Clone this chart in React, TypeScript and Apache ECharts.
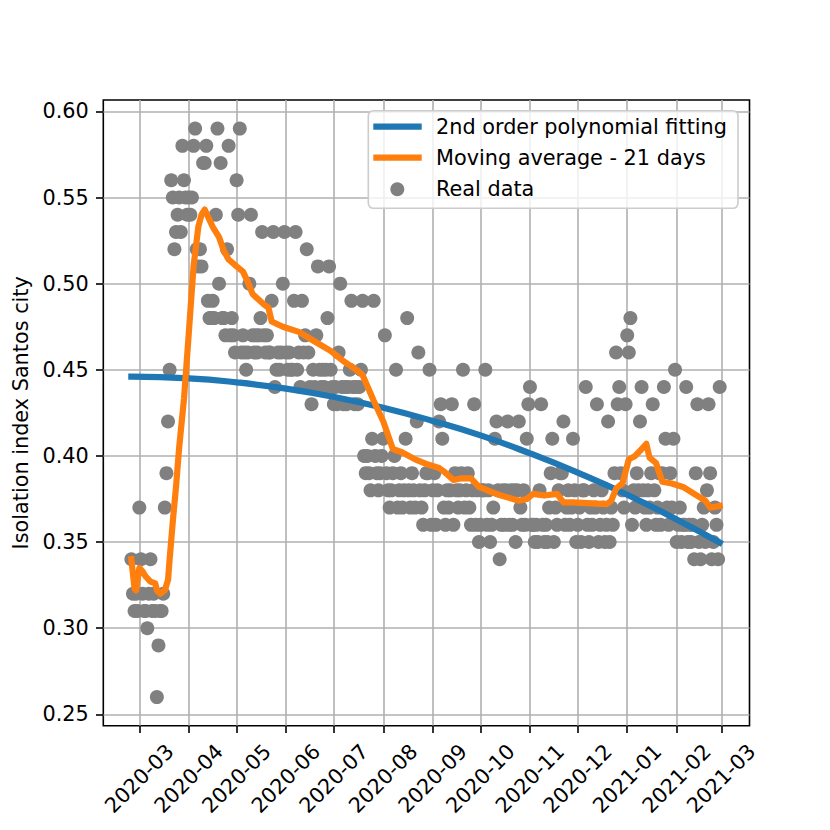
import React, { useEffect, useRef } from 'react';
import * as echarts from 'echarts';

// Daily isolation index, Santos city, first day 2020-02-25
const FIRST_DAY = '2020-02-25';
const iso2020Feb = [0.34, 0.32, 0.31, 0.32, 0.31];
const iso2020Mar = [0.37, 0.34, 0.32, 0.31, 0.31, 0.30, 0.32, 0.34, 0.31, 0.32, 0.31, 0.26, 0.29, 0.31, 0.31, 0.32, 0.37, 0.39, 0.42, 0.45, 0.56, 0.55, 0.52, 0.53, 0.54, 0.55, 0.53, 0.58, 0.56, 0.55, 0.54];
const iso2020Apr = [0.55, 0.54, 0.55, 0.58, 0.59, 0.52, 0.51, 0.52, 0.51, 0.57, 0.57, 0.58, 0.49, 0.48, 0.48, 0.49, 0.48, 0.54, 0.59, 0.50, 0.57, 0.48, 0.48, 0.47, 0.52, 0.58, 0.47, 0.48, 0.47, 0.46];
const iso2020May = [0.56, 0.54, 0.59, 0.46, 0.47, 0.46, 0.45, 0.46, 0.50, 0.54, 0.47, 0.46, 0.47, 0.46, 0.47, 0.48, 0.53, 0.47, 0.46, 0.47, 0.46, 0.46, 0.49, 0.53, 0.44, 0.45, 0.46, 0.45, 0.46, 0.50, 0.53];
const iso2020Jun = [0.46, 0.45, 0.46, 0.45, 0.45, 0.49, 0.53, 0.45, 0.46, 0.44, 0.49, 0.46, 0.47, 0.52, 0.46, 0.44, 0.43, 0.45, 0.44, 0.47, 0.51, 0.45, 0.44, 0.45, 0.44, 0.45, 0.48, 0.51, 0.45, 0.44];
const iso2020Jul = [0.43, 0.44, 0.43, 0.46, 0.50, 0.44, 0.43, 0.44, 0.43, 0.44, 0.45, 0.49, 0.44, 0.43, 0.44, 0.43, 0.44, 0.45, 0.49, 0.40, 0.39, 0.40, 0.39, 0.38, 0.41, 0.49, 0.40, 0.39, 0.38, 0.39, 0.40];
const iso2020Aug = [0.41, 0.47, 0.39, 0.38, 0.37, 0.38, 0.39, 0.40, 0.45, 0.37, 0.38, 0.39, 0.37, 0.38, 0.41, 0.48, 0.38, 0.37, 0.39, 0.38, 0.37, 0.42, 0.46, 0.38, 0.37, 0.36, 0.38, 0.39, 0.39, 0.45, 0.36];
const iso2020Sep = [0.38, 0.39, 0.36, 0.38, 0.42, 0.43, 0.41, 0.37, 0.36, 0.38, 0.37, 0.38, 0.43, 0.36, 0.39, 0.38, 0.37, 0.38, 0.39, 0.45, 0.37, 0.38, 0.39, 0.37, 0.36, 0.38, 0.43, 0.36, 0.38, 0.35];
const iso2020Oct = [0.36, 0.38, 0.38, 0.45, 0.36, 0.38, 0.35, 0.36, 0.37, 0.41, 0.42, 0.38, 0.34, 0.36, 0.38, 0.36, 0.38, 0.42, 0.36, 0.38, 0.36, 0.38, 0.35, 0.38, 0.42, 0.37, 0.36, 0.38, 0.36, 0.41, 0.43];
const iso2020Nov = [0.44, 0.36, 0.36, 0.35, 0.36, 0.35, 0.38, 0.43, 0.36, 0.35, 0.36, 0.35, 0.37, 0.39, 0.41, 0.35, 0.37, 0.36, 0.38, 0.39, 0.39, 0.42, 0.36, 0.37, 0.38, 0.36, 0.37, 0.41, 0.38, 0.35];
const iso2020Dec = [0.36, 0.37, 0.35, 0.38, 0.38, 0.44, 0.36, 0.35, 0.37, 0.36, 0.38, 0.37, 0.43, 0.35, 0.36, 0.38, 0.37, 0.35, 0.36, 0.42, 0.35, 0.37, 0.36, 0.39, 0.46, 0.43, 0.44, 0.39, 0.38, 0.37, 0.43];
const iso2021Jan = [0.47, 0.46, 0.48, 0.36, 0.38, 0.37, 0.39, 0.38, 0.42, 0.44, 0.38, 0.37, 0.36, 0.38, 0.37, 0.39, 0.43, 0.38, 0.36, 0.37, 0.39, 0.36, 0.39, 0.44, 0.41, 0.37, 0.36, 0.39, 0.37, 0.41, 0.45];
const iso2021Feb = [0.35, 0.36, 0.37, 0.35, 0.36, 0.36, 0.44, 0.35, 0.36, 0.35, 0.36, 0.34, 0.39, 0.43, 0.35, 0.34, 0.36, 0.37, 0.35, 0.38, 0.43, 0.39, 0.34, 0.35, 0.37, 0.36, 0.34, 0.44];

const isoMonths = [iso2020Feb, iso2020Mar, iso2020Apr, iso2020May, iso2020Jun, iso2020Jul, iso2020Aug, iso2020Sep, iso2020Oct, iso2020Nov, iso2020Dec, iso2021Jan, iso2021Feb];

// Moving average - 21 days
const maDates = ['2020-02-25', '2020-02-27', '2020-02-28', '2020-03-01', '2020-03-03', '2020-03-05', '2020-03-08', '2020-03-11', '2020-03-12', '2020-03-14', '2020-03-17', '2020-03-19', '2020-03-20', '2020-03-22', '2020-03-24', '2020-03-26', '2020-03-29', '2020-04-01', '2020-04-04', '2020-04-07', '2020-04-09', '2020-04-11', '2020-04-14', '2020-04-16', '2020-04-20', '2020-04-23', '2020-04-26', '2020-05-01', '2020-05-05', '2020-05-08', '2020-05-11', '2020-05-18', '2020-05-21', '2020-05-23', '2020-05-30', '2020-06-09', '2020-06-18', '2020-06-29', '2020-07-07', '2020-07-15', '2020-07-19', '2020-07-26', '2020-08-01', '2020-08-07', '2020-08-13', '2020-08-21', '2020-08-29', '2020-09-05', '2020-09-08', '2020-09-14', '2020-09-19', '2020-09-25', '2020-09-30', '2020-10-08', '2020-10-14', '2020-10-25', '2020-10-30', '2020-11-03', '2020-11-10', '2020-11-18', '2020-11-22', '2020-11-28', '2020-12-19', '2020-12-22', '2020-12-25', '2020-12-29', '2021-01-02', '2021-01-06', '2021-01-10', '2021-01-13', '2021-01-15', '2021-01-19', '2021-01-23', '2021-01-29', '2021-02-05', '2021-02-12', '2021-02-19', '2021-02-22', '2021-02-28'];
const maValues = [0.340, 0.323, 0.322, 0.335, 0.333, 0.330, 0.327, 0.326, 0.322, 0.320, 0.322, 0.328, 0.340, 0.362, 0.382, 0.405, 0.433, 0.471, 0.510, 0.533, 0.540, 0.543, 0.537, 0.533, 0.527, 0.519, 0.514, 0.510, 0.507, 0.501, 0.494, 0.488, 0.486, 0.478, 0.475, 0.472, 0.467, 0.461, 0.455, 0.450, 0.447, 0.432, 0.420, 0.404, 0.402, 0.398, 0.395, 0.393, 0.391, 0.386, 0.387, 0.387, 0.382, 0.379, 0.377, 0.374, 0.375, 0.378, 0.377, 0.378, 0.373, 0.373, 0.372, 0.374, 0.381, 0.384, 0.398, 0.400, 0.404, 0.407, 0.399, 0.396, 0.385, 0.384, 0.382, 0.378, 0.374, 0.370, 0.371];

// 2nd order polynomial fitting
const fitDates = ['2020-02-25', '2020-04-01', '2020-05-01', '2020-06-01', '2020-07-01', '2020-08-01', '2020-09-01', '2020-10-01', '2020-11-01', '2020-12-01', '2021-01-01', '2021-02-01', '2021-02-28'];
const fitValues = [0.446, 0.445, 0.4427, 0.4391, 0.4343, 0.428, 0.4203, 0.4119, 0.4015, 0.3903, 0.3775, 0.3631, 0.3497];

const xTickLabels = ['2020-03', '2020-04', '2020-05', '2020-06', '2020-07', '2020-08', '2020-09', '2020-10', '2020-11', '2020-12', '2021-01', '2021-02', '2021-03'];
const yTickValues = [0.25, 0.3, 0.35, 0.4, 0.45, 0.5, 0.55, 0.6];

const FONT = 'DejaVu Sans';
const FS = 20.8;
const LW = 6.2;
const THIN = 1.6;

function toTs(s: string): number {
  const p = s.split('-').map(Number);
  return new Date(p[0], p[1] - 1, p[2] || 1).getTime();
}

export default function App() {
  const ref = useRef<HTMLDivElement>(null);
  useEffect(() => {
    if (!ref.current) return;
    const chart = echarts.init(ref.current, null, { renderer: 'svg' });
    const fd = FIRST_DAY.split('-').map(Number);
    const allValues = ([] as number[]).concat(...isoMonths);
    const scatterData = allValues.map((v, i) => [new Date(fd[0], fd[1] - 1, fd[2] + i).getTime(), v]);
    const maData = maDates.map((d, i) => [toTs(d), maValues[i]]);
    const fitData = fitDates.map((d, i) => [toTs(d), fitValues[i]]);
    const xTicks = xTickLabels.map((s) => toTs(s));
    const xMin = new Date(2020, 1, 7, 9, 36).getTime();
    const xMax = new Date(2021, 2, 18, 16, 48).getTime();

    const option: any = {
      animation: false,
      backgroundColor: '#ffffff',
      textStyle: { fontFamily: FONT },
      grid: {
        left: 103.3,
        top: 100,
        right: 80.5,
        bottom: 104.3,
        show: true,
        borderColor: '#000000',
        borderWidth: THIN,
        backgroundColor: 'transparent',
        containLabel: false,
        outerBoundsMode: 'none',
      },
      xAxis: {
        type: 'value',
        min: xMin,
        max: xMax,
        scale: true,
        axisLine: { show: false },
        axisTick: {
          show: true,
          customValues: xTicks,
          length: 7.3,
          lineStyle: { color: '#000', width: THIN },
        },
        axisLabel: {
          show: true,
          customValues: xTicks,
          rotate: 45,
          align: 'center',
          verticalAlign: 'middle',
          margin: 53,
          hideOverlap: false,
          fontSize: FS,
          fontFamily: FONT,
          color: '#000',
          formatter: (val: number) => {
            const idx = xTicks.indexOf(val);
            return idx >= 0 ? xTickLabels[idx] : '';
          },
        },
        splitLine: { show: true, lineStyle: { color: '#b0b0b0', width: THIN } },
      },
      yAxis: {
        type: 'value',
        min: 0.2434,
        max: 0.6066,
        name: 'Isolation index Santos city',
        nameLocation: 'middle',
        nameGap: 80,
        nameRotate: 90,
        nameTextStyle: { fontSize: FS, fontFamily: FONT, color: '#000', align: 'center', verticalAlign: 'middle' },
        axisLine: { show: false },
        axisTick: {
          show: true,
          customValues: yTickValues,
          length: 7.3,
          lineStyle: { color: '#000', width: THIN },
        },
        axisLabel: {
          show: true,
          customValues: yTickValues,
          margin: 14.5,
          fontSize: FS,
          fontFamily: FONT,
          color: '#000',
          formatter: (v: number) => v.toFixed(2),
        },
        splitLine: { show: true, lineStyle: { color: '#b0b0b0', width: THIN } },
      },
      series: [
        {
          name: 'Real data',
          type: 'scatter',
          data: scatterData,
          symbol: 'circle',
          symbolSize: 14,
          itemStyle: { color: '#808080', opacity: 1 },
          z: 2,
        },
        {
          name: '2nd order polynomial fitting',
          type: 'line',
          data: fitData,
          smooth: true,
          symbol: 'none',
          lineStyle: { color: '#1f77b4', width: LW, cap: 'square', join: 'round' },
          z: 3,
        },
        {
          name: 'Moving average - 21 days',
          type: 'line',
          data: maData,
          smooth: false,
          symbol: 'none',
          lineStyle: { color: '#ff7f0e', width: LW, cap: 'square', join: 'round' },
          z: 4,
        },
      ],
      graphic: [
        {
          type: 'rect',
          z: 100,
          shape: { x: 368.3, y: 110.7, width: 369.7, height: 97.6, r: 5 },
          style: { fill: 'rgba(255,255,255,0.8)', stroke: '#cccccc', lineWidth: THIN },
        },
        {
          type: 'line',
          z: 101,
          shape: { x1: 373.3, y1: 126.7, x2: 421.7, y2: 126.7 },
          style: { stroke: '#1f77b4', lineWidth: LW },
        },
        {
          type: 'line',
          z: 101,
          shape: { x1: 373.3, y1: 157.7, x2: 421.7, y2: 157.7 },
          style: { stroke: '#ff7f0e', lineWidth: LW },
        },
        {
          type: 'circle',
          z: 101,
          shape: { cx: 397.3, cy: 189.3, r: 7 },
          style: { fill: '#808080' },
        },
        {
          type: 'text',
          z: 101,
          x: 436,
          y: 126.7,
          style: { text: '2nd order polynomial fitting', fontSize: FS, fontFamily: FONT, fill: '#000', align: 'left', verticalAlign: 'middle' },
        },
        {
          type: 'text',
          z: 101,
          x: 436,
          y: 157.8,
          style: { text: 'Moving average - 21 days', fontSize: FS, fontFamily: FONT, fill: '#000', align: 'left', verticalAlign: 'middle' },
        },
        {
          type: 'text',
          z: 101,
          x: 436,
          y: 188.5,
          style: { text: 'Real data', fontSize: FS, fontFamily: FONT, fill: '#000', align: 'left', verticalAlign: 'middle' },
        },
      ],
    };
    chart.setOption(option);
    return () => {
      chart.dispose();
    };
  }, []);
  return (
    <div
      ref={ref}
      style={{ position: 'fixed', left: 0, top: 0, width: 830, height: 830, background: '#ffffff' }}
    />
  );
}
